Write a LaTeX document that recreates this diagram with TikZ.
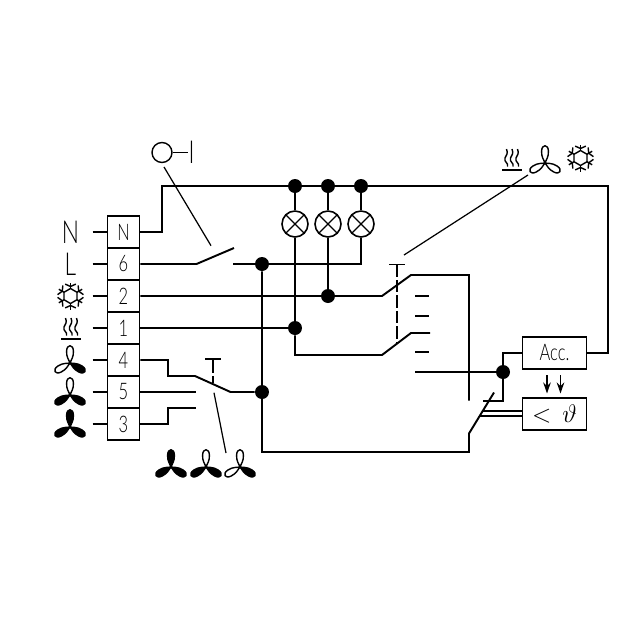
\documentclass[tikz,border=0pt]{standalone}
\usepackage{fontspec}
\setmainfont[FakeStretch=0.72]{Lato Light}
\usetikzlibrary{arrows.meta}
\tikzset{
  wire/.style={line width=1.1pt, line join=miter},
  leader/.style={line width=0.7pt},
  linkbar/.style={line width=0.8pt},
  term/.style={draw, line width=1.1pt, minimum width=0.64cm, minimum height=0.64cm, inner sep=0pt, font=\fontsize{13}{13}\selectfont},
  node-dot/.style={circle, fill=black, minimum size=0.28cm, inner sep=0pt},
  lamp/.style={circle, draw, line width=0.9pt, minimum size=0.52cm, inner sep=0pt,
    path picture={
      \draw[line width=0.7pt] (path picture bounding box.north west) -- (path picture bounding box.south east);
      \draw[line width=0.7pt] (path picture bounding box.north east) -- (path picture bounding box.south west);
    }},
  bigletter/.style={inner sep=0pt, font=\fontsize{18}{18}\selectfont},
  boxlabel/.style={draw, line width=1.1pt, minimum width=1.28cm, inner sep=0pt},
  icon/.style={line width=0.8pt, line join=round}
}
% fan with three blades: position, then fill of top, left, right blade
\newcommand{\fanicon}[4]{
  \begin{scope}[shift={(#1)}, icon]
    \foreach \a/\c in {0/#2,120/#3,240/#4}{
      \draw[rotate=\a, fill=\c] (0,0) .. controls (-1,-3) and (-3.8,-6) .. (-3.4,-12)
        .. controls (-3.2,-19) and (3.2,-19) .. (3.4,-12)
        .. controls (3.8,-6) and (1,-3) .. (0,0);
    }
  \end{scope}
}
\newcommand{\snowicon}[1]{
  \begin{scope}[shift={(#1)}, icon]
    \draw (90:7.5) -- (150:7.5) -- (210:7.5) -- (270:7.5) -- (330:7.5) -- (30:7.5) -- cycle;
    \foreach \a in {30,90,...,330}{
      \draw (\a:7.5) -- (\a:13.5);
      \draw (\a+24:13) -- (\a:9.5) -- (\a-24:13);
    }
  \end{scope}
}
\newcommand{\heaticon}[1]{
  \begin{scope}[shift={(#1)}, icon]
    \draw[line width=0.9pt] (-10,0) -- (10,0);
    \foreach \x in {-5.5,0,5.5}{
      \draw[shift={(\x,0)}] (1,-3.5) .. controls (2.5,-7) and (-3,-8) .. (-1.5,-12)
        .. controls (-0.5,-15) and (2,-16) .. (0,-21);
    }
  \end{scope}
}
\begin{document}
\begin{tikzpicture}[x=0.02cm, y=-0.02cm]
  \useasboundingbox (0,0) rectangle (643,643);
  % terminal strip
  \foreach \r/\y in {N/232,6/264,2/296,1/328,4/360,5/392,3/424}{
    \node[term] (t\r) at (123.5,\y) {\r};
    \coordinate (s\r) at (92.5,\y);
    \draw[wire] (s\r) -- (t\r);
  }
  % symbols at the left
  \node[bigletter] (labn) at (70.5,232) {N};
  \node[bigletter] (labl) at (70.5,264) {L};
  \snowicon{70.5,296}
  \heaticon{71,339}
  \fanicon{70,363}{white}{white}{black}
  \fanicon{70,395}{white}{black}{black}
  \fanicon{70,427}{black}{black}{black}
  % lamps
  \node[node-dot] (d1) at (295,186) {};
  \node[node-dot] (d2) at (328,186) {};
  \node[node-dot] (d3) at (361,186) {};
  \node[lamp] (l1) at (295,224) {};
  \node[lamp] (l2) at (328,224) {};
  \node[lamp] (l3) at (361,224) {};
  % junctions
  \node[node-dot] (j6) at (262,264) {};
  \node[node-dot] (j2) at (328,296) {};
  \node[node-dot] (j1) at (295,328) {};
  \node[node-dot] (jf) at (262,392) {};
  \node[node-dot] (ja) at (503,372) {};
  % boxes
  \node[boxlabel, minimum height=0.63cm] (acc) at (554.5,353) {\fontsize{13}{13}\selectfont Acc.};
  \node[boxlabel, minimum height=0.63cm] (sens) at (554.5,414) {\fontsize{14}{14}\selectfont $<$\hspace{0.22cm}$\vartheta$};
  % mains line
  \coordinate (n1) at (162,232);
  \coordinate (n2) at (162,186);
  \coordinate (n3) at (608,186);
  \coordinate (n4) at (608,353);
  \draw[wire] (tN) -- (n1) -- (n2) -- (n3) -- (n4) -- (acc);
  \foreach \i in {1,2,3}{
    \draw[wire] (d\i) -- (l\i);
  }
  % switch on the L line
  \coordinate (a1) at (196.5,264);
  \coordinate (a2) at (234,248);
  \coordinate (a3) at (233,264);
  \draw[wire] (t6) -- (a1) -- (a2);
  \draw[wire] (a3) -- (j6);
  \draw[wire] (l3) |- (j6);
  \draw[wire] (l2) -- (j2);
  \draw[wire] (l1) -- (j1);
  % double contact
  \coordinate (b1) at (382,296);
  \coordinate (b2) at (411,275);
  \coordinate (b3) at (469,275);
  \coordinate (b4) at (469,400.5);
  \coordinate (c0) at (295,355);
  \coordinate (c1) at (382,355);
  \coordinate (c2) at (411,333);
  \coordinate (c3) at (430,333);
  \draw[wire] (t2) -- (b1) -- (b2) -- (b3) -- (b4);
  \draw[wire] (j1) -- (c0) -- (c1) -- (c2) -- (c3);
  \draw[wire] (t1) -- (j1);
  \foreach \y in {296,316,352}{
    \draw[wire] (415,\y) -- (429,\y);
  }
  \coordinate (c5) at (415,372);
  \draw[wire] (c5) -- (ja);
  \draw[wire] (ja) |- (acc);
  % thermostat contact
  \coordinate (e1) at (482.5,401);
  \coordinate (e2) at (262,452);
  \coordinate (e3) at (469,452);
  \coordinate (e4) at (469,433.5);
  \coordinate (e5) at (494,392.5);
  \draw[wire] (ja) |- (e1);
  \draw[wire] (j6) -- (e2) -- (e3) -- (e4) -- (e5);
  \draw[wire] (481.5,411) -- (sens.west |- 0,411);
  \draw[wire] (480,416) -- (sens.west |- 0,416);
  \coordinate (u1) at (547,375);
  \coordinate (u2) at (560.5,375);
  \foreach \u in {u1,u2}{
    \draw[wire, -{Stealth[length=2.2mm,width=1.5mm]}] (\u) -- (\u |- 0,393.5);
  }
  % fan speed switch
  \coordinate (f1) at (168,360);
  \coordinate (f2) at (168,376);
  \coordinate (f3) at (195,376);
  \coordinate (f4) at (230.5,392);
  \draw[wire] (t4) -- (f1) -- (f2) -- (f3) -- (f4) -- (jf);
  \coordinate (f5) at (196,392);
  \draw[wire] (t5) -- (f5);
  \coordinate (f6) at (168,424);
  \coordinate (f7) at (168,408);
  \coordinate (f8) at (196,408);
  \draw[wire] (t3) -- (f6) -- (f7) -- (f8);
  % push rods
  \draw[linkbar] (205,359) -- (221,359);
  \draw[linkbar, dash pattern=on 8pt off 1.6pt] (213,359) -- (213,383);
  \draw[linkbar] (389,264.5) -- (405,264.5);
  \draw[linkbar, dash pattern=on 7pt off 1.8pt] (397,264.5) -- (397,343);
  % on-off mark
  \node[circle, draw, line width=0.8pt, minimum size=0.4cm, inner sep=0pt] (off) at (162,152.5) {};
  \node[inner sep=0pt, font=\fontsize{18}{18}\selectfont] (on) at (191.5,152.5) {I};
  \draw[leader] (off) -- (on);
  % leaders
  \coordinate (m1) at (164,167);
  \coordinate (m2) at (211,245.7);
  \draw[leader] (m1) -- (m2);
  \coordinate (m3) at (404,255);
  \coordinate (m4) at (528,175);
  \draw[leader] (m3) -- (m4);
  \coordinate (m5) at (214,392.7);
  \coordinate (m6) at (226,453);
  \draw[leader] (m5) -- (m6);
  % symbols at the top and at the bottom
  \heaticon{512,170}
  \fanicon{545,163}{white}{white}{white}
  \snowicon{580.5,158}
  \fanicon{171,467}{black}{black}{black}
  \fanicon{206,467}{white}{black}{black}
  \fanicon{240,467}{white}{white}{black}
\end{tikzpicture}
\end{document}
